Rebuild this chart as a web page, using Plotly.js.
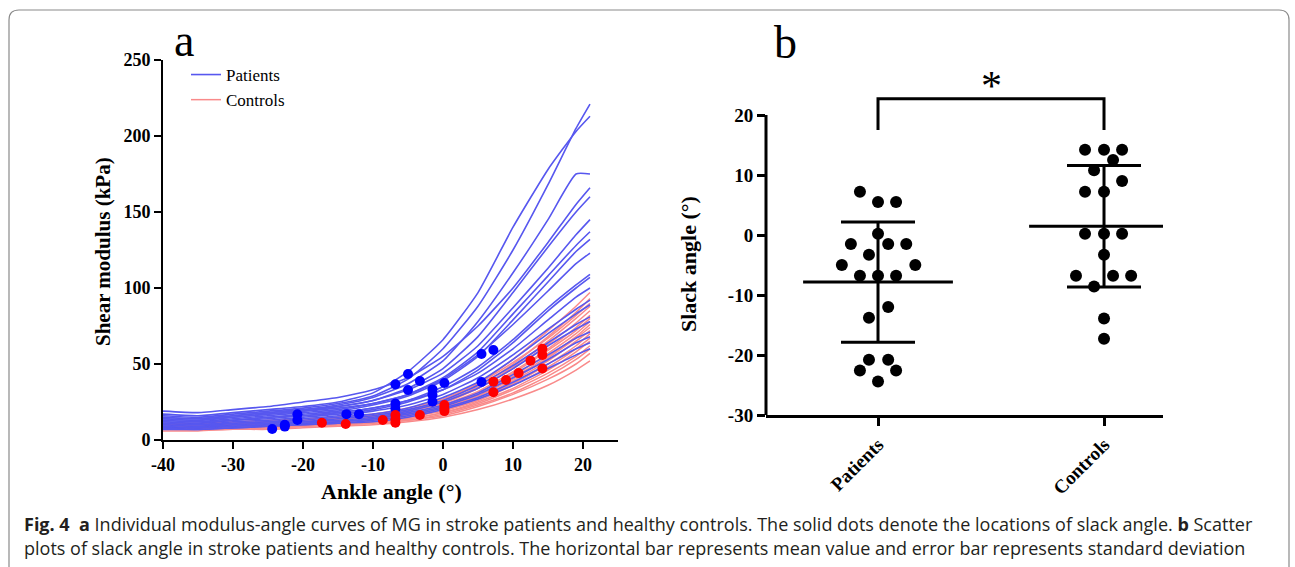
<!DOCTYPE html>
<html><head><meta charset="utf-8">
<script src="https://cdn.plot.ly/plotly-3.0.1.min.js"></script>
<style>html,body{margin:0;padding:0;background:#fff}#chart{width:1295px;height:567px}</style>
</head><body><div id="chart"></div>
<script>
// ---------- DATA ----------
const angleGrid = [-40, -35, -30, -25, -20, -15, -10, -5, 0, 5, 10, 15, 19, 21];

const patientCurves = [
  [17,16,18,20,22,25,31,45,66,97,140,178,203,213],
  [16,15,17,19,21,24,29,40,60,88,125,168,205,221],
  [15,14,16,18,20,23,28,37,52,78,110,145,175,175],
  [19,18,20,22,25,28,33,41,55,75,100,130,155,166],
  [14,13,15,17,19,22,26,34,47,68,97,127,150,160],
  [15,14,16,18,20,22,26,33,44,62,87,113,135,145],
  [13,12,14,16,18,20,24,30,41,58,83,108,128,137],
  [12,11,13,15,17,19,23,29,39,55,79,104,124,132],
  [14,13,15,17,19,21,24,30,40,56,76,98,116,123],
  [12,11,13,14,16,18,21,26,35,48,66,87,102,109],
  [11,10,12,13,15,17,20,25,33,46,64,85,100,107],
  [13,12,13,15,16,18,21,26,33,44,60,79,94,100],
  [10,9,11,12,14,16,19,23,30,41,56,73,86,92],
  [11,10,11,12,13,15,17,21,28,38,53,70,83,89],
  [9,8,10,11,12,14,16,20,26,36,49,64,76,81],
  [10,9,10,11,12,13,15,19,25,34,47,62,73,78],
  [8,8,9,10,11,12,14,18,23,31,43,56,67,71],
  [9,8,9,10,11,12,14,17,22,30,41,53,64,68],
  [8,7,8,9,10,11,13,16,21,28,38,50,60,64],
  [7,7,8,9,10,11,12,15,20,27,36,47,56,60]
];

const controlCurves = [
  [10,10,11,12,13,15,17,20,26,37,53,72,88,97],
  [9,9,10,11,12,14,16,19,25,35,50,68,84,93],
  [11,11,12,13,14,15,17,21,27,37,51,67,82,90],
  [8,8,9,10,11,13,15,19,24,34,48,65,80,88],
  [10,10,11,11,12,14,16,19,25,34,47,63,77,85],
  [9,9,10,11,12,13,15,18,23,32,45,60,74,82],
  [8,8,9,10,11,12,14,17,22,31,44,59,72,80],
  [9,9,9,10,11,12,14,17,22,30,42,57,70,78],
  [7,7,8,9,10,11,13,16,21,29,41,55,68,76],
  [8,8,9,9,10,12,14,17,21,29,40,54,67,74],
  [9,9,10,10,11,12,14,16,20,28,39,52,65,72],
  [7,7,8,9,10,11,13,15,20,27,37,50,62,70],
  [8,8,8,9,10,11,12,15,19,26,36,48,60,67],
  [7,7,8,8,9,10,12,14,18,25,34,46,58,65],
  [8,8,8,9,10,11,12,14,18,24,33,44,55,62],
  [7,7,8,8,9,10,11,13,17,23,31,42,53,60],
  [7,7,7,8,9,10,11,13,16,22,30,40,50,57],
  [6,6,7,7,8,9,10,12,15,20,27,36,46,52]
];

// slack angles (deg) and shear modulus at the slack angle (kPa)
const patientSlack = [7.2, 5.5, 5.5, 0.2, -1.5, -1.5, -1.5, -3.3, -5.0, -5.0, -6.8, -6.8, -6.8, -12.0, -13.8, -20.8, -20.8, -22.6, -22.6, -24.4];
const patientSlackModulus = [59.2, 56.6, 38.2, 37.5, 33.3, 29.6, 25.2, 38.8, 43.4, 32.9, 36.6, 24.0, 20.5, 17.0, 17.0, 16.9, 13.2, 10.0, 8.8, 7.2];
const patientJitter = [-0.08, 0, 0.08, 0, -0.12, 0.045, 0.125, -0.04, -0.16, 0.165, -0.08, 0, 0.08, 0.045, -0.04, -0.04, 0.045, -0.08, 0.08, 0];

const controlSlack = [14.2, 14.2, 14.2, 12.5, 10.8, 9.0, 7.2, 7.2, 0.2, 0.2, 0.2, -3.3, -6.8, -6.8, -6.8, -8.6, -13.9, -17.3];
const controlSlackModulus = [60.0, 56.0, 47.0, 52.2, 44.0, 39.5, 38.4, 31.4, 23.0, 20.8, 19.0, 16.4, 16.4, 13.6, 11.4, 13.2, 10.5, 11.4];
const controlJitter = [-0.084, 0, 0.08, 0.04, -0.044, 0.08, -0.084, 0, -0.084, 0, 0.08, 0, -0.124, 0.04, 0.12, -0.044, 0, 0];

const groups = ['Patients', 'Controls'];
const xTicksA = [-40, -30, -20, -10, 0, 10, 20];
const yTicksA = [0, 50, 100, 150, 200, 250];
const yTicksB = [-30, -20, -10, 0, 10, 20];

// ---------- helpers ----------
const W = 1295, H = 567;
const px = v => v / W;
const py = v => 1 - v / H;
const mean = a => a.reduce((s, v) => s + v, 0) / a.length;
const sd = a => { const m = mean(a); return Math.sqrt(a.reduce((s, v) => s + (v - m) * (v - m), 0) / (a.length - 1)); };
const lbl = a => a.map(v => String(v));   // plain hyphen minus as in the original

const serif = 'Liberation Serif, Times New Roman, serif';
const BLUE_LINE = '#5757ef';
const RED_LINE = '#f98a8a';

const traces = [];
controlCurves.forEach((c, i) => traces.push({
  type: 'scatter', mode: 'lines', x: angleGrid, y: c, xaxis: 'x', yaxis: 'y',
  line: { color: RED_LINE, width: 1.5, shape: 'spline', smoothing: 0.5 },
  name: groups[1], legendgroup: 'c', showlegend: i === 0, legendrank: 2, hoverinfo: 'skip'
}));
patientCurves.forEach((c, i) => traces.push({
  type: 'scatter', mode: 'lines', x: angleGrid, y: c, xaxis: 'x', yaxis: 'y',
  line: { color: BLUE_LINE, width: 1.6, shape: 'spline', smoothing: 0.5 },
  name: groups[0], legendgroup: 'p', showlegend: i === 0, legendrank: 1, hoverinfo: 'skip'
}));
traces.push({
  type: 'scatter', mode: 'markers', x: patientSlack, y: patientSlackModulus, xaxis: 'x', yaxis: 'y',
  marker: { color: '#0000ff', size: 10 }, showlegend: false
});
traces.push({
  type: 'scatter', mode: 'markers', x: controlSlack, y: controlSlackModulus, xaxis: 'x', yaxis: 'y',
  marker: { color: '#ff0000', size: 10 }, showlegend: false
});

// panel b: mean (horizontal bar) and SD (error bar)
traces.push({
  type: 'scatter', mode: 'markers', x: [0, 1], y: [mean(patientSlack), mean(controlSlack)],
  xaxis: 'x2', yaxis: 'y2', showlegend: false,
  marker: { symbol: 'line-ew', size: 107, color: '#000', line: { color: '#000', width: 3 } },
  error_y: { type: 'data', array: [sd(patientSlack), sd(controlSlack)], visible: true, thickness: 3, width: 37, color: '#000' }
});
traces.push({
  type: 'scatter', mode: 'markers', x: patientJitter.map(j => 0 + j), y: patientSlack,
  xaxis: 'x2', yaxis: 'y2', showlegend: false, marker: { color: '#000', size: 12 }
});
traces.push({
  type: 'scatter', mode: 'markers', x: controlJitter.map(j => 1 + j), y: controlSlack,
  xaxis: 'x2', yaxis: 'y2', showlegend: false, marker: { color: '#000', size: 12 }
});

const tickFont = { family: serif, size: 18, color: '#000', weight: 'bold' };
const captionFont = { family: 'Open Sans, sans-serif', size: 18, color: '#231f20' };

const layout = {
  width: W, height: H,
  margin: { l: 0, r: 0, t: 0, b: 0 },
  paper_bgcolor: '#fff', plot_bgcolor: 'rgba(0,0,0,0)',
  showlegend: true,
  legend: {
    x: px(186), y: py(57), xanchor: 'left', yanchor: 'top',
    bgcolor: 'rgba(0,0,0,0)', font: { family: serif, size: 17, color: '#000' },
    tracegroupgap: 0, itemwidth: 30
  },
  xaxis: {
    domain: [px(163), px(618)], range: [-40, 25], anchor: 'y',
    tickvals: xTicksA, ticktext: lbl(xTicksA), ticks: 'outside', ticklen: 7, tickwidth: 2, tickcolor: '#000',
    showline: true, linewidth: 2, linecolor: '#000', showgrid: false, zeroline: false,
    tickfont: tickFont
  },
  yaxis: {
    domain: [py(440), py(60)], range: [0, 250], anchor: 'x',
    tickvals: yTicksA, ticktext: lbl(yTicksA), ticks: 'outside', ticklen: 7, tickwidth: 2, tickcolor: '#000',
    showline: true, linewidth: 2, linecolor: '#000', showgrid: false, zeroline: false,
    tickfont: tickFont
  },
  xaxis2: {
    domain: [px(766), px(1163)], range: [-0.4956, 1.261], anchor: 'y2',
    tickvals: [0, 1], ticktext: groups, tickangle: -45,
    ticks: 'outside', ticklen: 8, tickwidth: 3, tickcolor: '#000',
    showline: true, linewidth: 3, linecolor: '#000', showgrid: false, zeroline: false,
    tickfont: { family: serif, size: 19, color: '#000', weight: 'bold' }
  },
  yaxis2: {
    domain: [py(415), py(91)], range: [-30, 24], anchor: 'x2',
    tickvals: yTicksB, ticktext: lbl(yTicksB), ticks: 'outside', ticklen: 8, tickwidth: 3, tickcolor: '#000',
    showline: false, showgrid: false, zeroline: false,
    tickfont: { family: serif, size: 19, color: '#000', weight: 'bold' }
  },
  shapes: [
    // figure frame
    { type: 'path', xref: 'paper', yref: 'paper', line: { color: '#8a8a8a', width: 1.2 },
      path: `M ${px(9)},${py(567)} L ${px(9)},${py(20)} Q ${px(9)},${py(10)} ${px(19)},${py(10)} L ${px(1279)},${py(10)} Q ${px(1289)},${py(10)} ${px(1289)},${py(20)} L ${px(1289)},${py(567)}` },
    // panel b y axis line
    { type: 'line', xref: 'x2 domain', yref: 'y2', x0: 0, x1: 0, y0: -30, y1: 20, line: { color: '#000', width: 3 } },
    // significance bracket
    { type: 'path', xref: 'x2', yref: 'y2', line: { color: '#000', width: 3 },
      path: 'M 0,17.5 L 0,22.7 L 1,22.7 L 1,17.5' }
  ],
  annotations: [
    { text: 'a', x: px(184), y: py(40), xref: 'paper', yref: 'paper', showarrow: false, xanchor: 'center', yanchor: 'middle',
      font: { family: serif, size: 46, color: '#000' } },
    { text: 'b', x: px(785), y: py(42), xref: 'paper', yref: 'paper', showarrow: false, xanchor: 'center', yanchor: 'middle',
      font: { family: serif, size: 46, color: '#000' } },
    { text: '<b>Shear modulus (kPa)</b>', x: px(103), y: py(252), xref: 'paper', yref: 'paper', showarrow: false, textangle: -90,
      xanchor: 'center', yanchor: 'middle', font: { family: serif, size: 21, color: '#000' } },
    { text: '<b>Ankle angle (°)</b>', x: px(391), y: py(491), xref: 'paper', yref: 'paper', showarrow: false,
      xanchor: 'center', yanchor: 'middle', font: { family: serif, size: 22, color: '#000' } },
    { text: '<b>Slack angle (°)</b>', x: px(688), y: py(264), xref: 'paper', yref: 'paper', showarrow: false, textangle: -90,
      xanchor: 'center', yanchor: 'middle', font: { family: serif, size: 22, color: '#000' } },
    { text: '*', x: 0.5, y: py(86), xref: 'x2', yref: 'paper', showarrow: false,
      xanchor: 'center', yanchor: 'middle', font: { family: serif, size: 42, color: '#000' } },
    { text: '<b>Fig. 4</b>\u00A0\u00A0<b>a</b> Individual modulus-angle curves of MG in stroke patients and healthy controls. The solid dots denote the locations of slack angle. <b>b</b> Scatter',
      x: px(22), y: py(524), xref: 'paper', yref: 'paper', showarrow: false, xanchor: 'left', yanchor: 'middle', align: 'left',
      font: captionFont },
    { text: 'plots of slack angle in stroke patients and healthy controls. The horizontal bar represents mean value and error bar represents standard deviation',
      x: px(22), y: py(548), xref: 'paper', yref: 'paper', showarrow: false, xanchor: 'left', yanchor: 'middle', align: 'left',
      font: captionFont }
  ]
};

Plotly.newPlot('chart', traces, layout, { displayModeBar: false, staticPlot: true });
</script>
</body></html>
